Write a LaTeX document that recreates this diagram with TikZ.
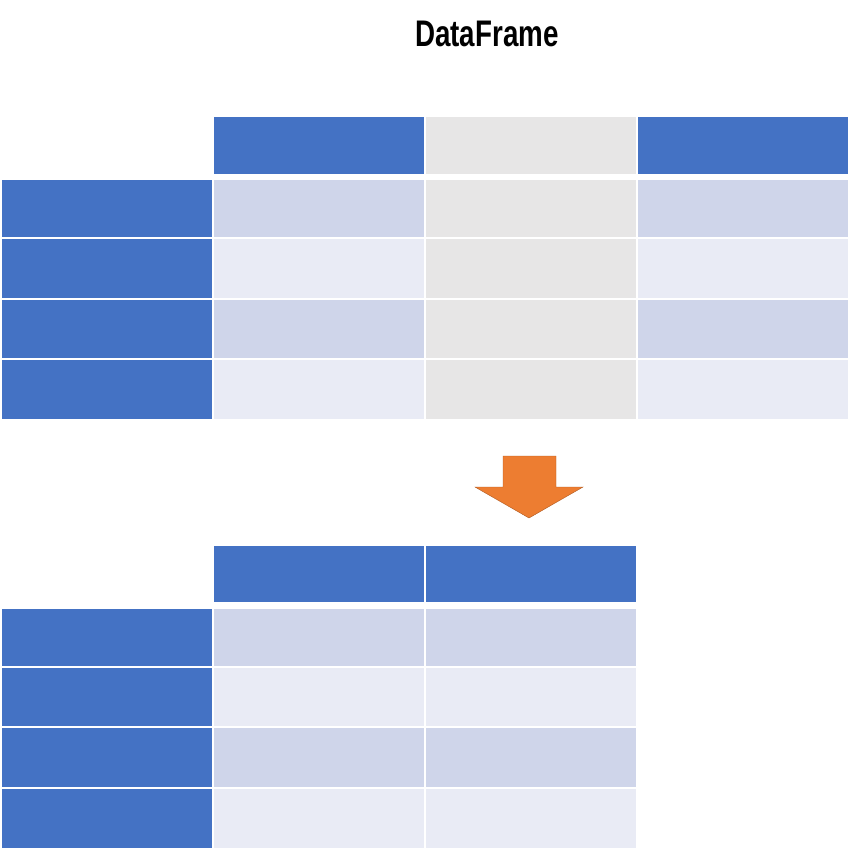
\documentclass[tikz,border=0pt]{standalone}
\usepackage{fontspec}
\newfontfamily\titlefont[FakeStretch=0.75]{Liberation Sans}
\definecolor{hdrblue}{HTML}{4472C4}
\definecolor{rowdark}{HTML}{CFD5EA}
\definecolor{rowlight}{HTML}{E9EBF5}
\definecolor{colgray}{HTML}{E7E6E6}
\definecolor{arrfill}{HTML}{ED7D31}
\definecolor{arrline}{HTML}{AE5A21}

\begin{document}
\begin{tikzpicture}[x=1pt,y=-1pt]
\useasboundingbox (0,0) rectangle (852,852);
\node[font={\titlefont\bfseries\fontsize{37}{40}\selectfont}, anchor=base, inner sep=0pt] (title) at (487,46) {DataFrame};

% top table
\fill[hdrblue] (214,117) rectangle node (th1) {} (424,174);
\fill[colgray] (426,117) rectangle node (th2) {} (636,174);
\fill[hdrblue] (638,117) rectangle node (th3) {} (848,174);
\foreach \i/\ya/\yb/\c in {1/180/237/rowdark, 2/239/298/rowlight, 3/300/358/rowdark, 4/360/419/rowlight} {
  \fill[hdrblue] (2,\ya) rectangle node (ti\i) {} (212,\yb);
  \fill[\c] (214,\ya) rectangle node (ta\i) {} (424,\yb);
  \fill[colgray] (426,\ya) rectangle node (tb\i) {} (636,\yb);
  \fill[\c] (638,\ya) rectangle node (tc\i) {} (848,\yb);
}

% arrow
\draw[arrline, fill=arrfill] (503,456) -- (556,456) -- (556,487) -- (583,487) -- (529,518) -- (475,487) -- (503,487) -- cycle;

% bottom table
\fill[hdrblue] (214,546) rectangle node (bh1) {} (424,602);
\fill[hdrblue] (426,546) rectangle node (bh2) {} (636,602);
\foreach \i/\ya/\yb/\c in {1/609/666/rowdark, 2/668/726/rowlight, 3/728/787/rowdark, 4/789/848/rowlight} {
  \fill[hdrblue] (2,\ya) rectangle node (bi\i) {} (212,\yb);
  \fill[\c] (214,\ya) rectangle node (ba\i) {} (424,\yb);
  \fill[\c] (426,\ya) rectangle node (bb\i) {} (636,\yb);
}
\end{tikzpicture}
\end{document}
